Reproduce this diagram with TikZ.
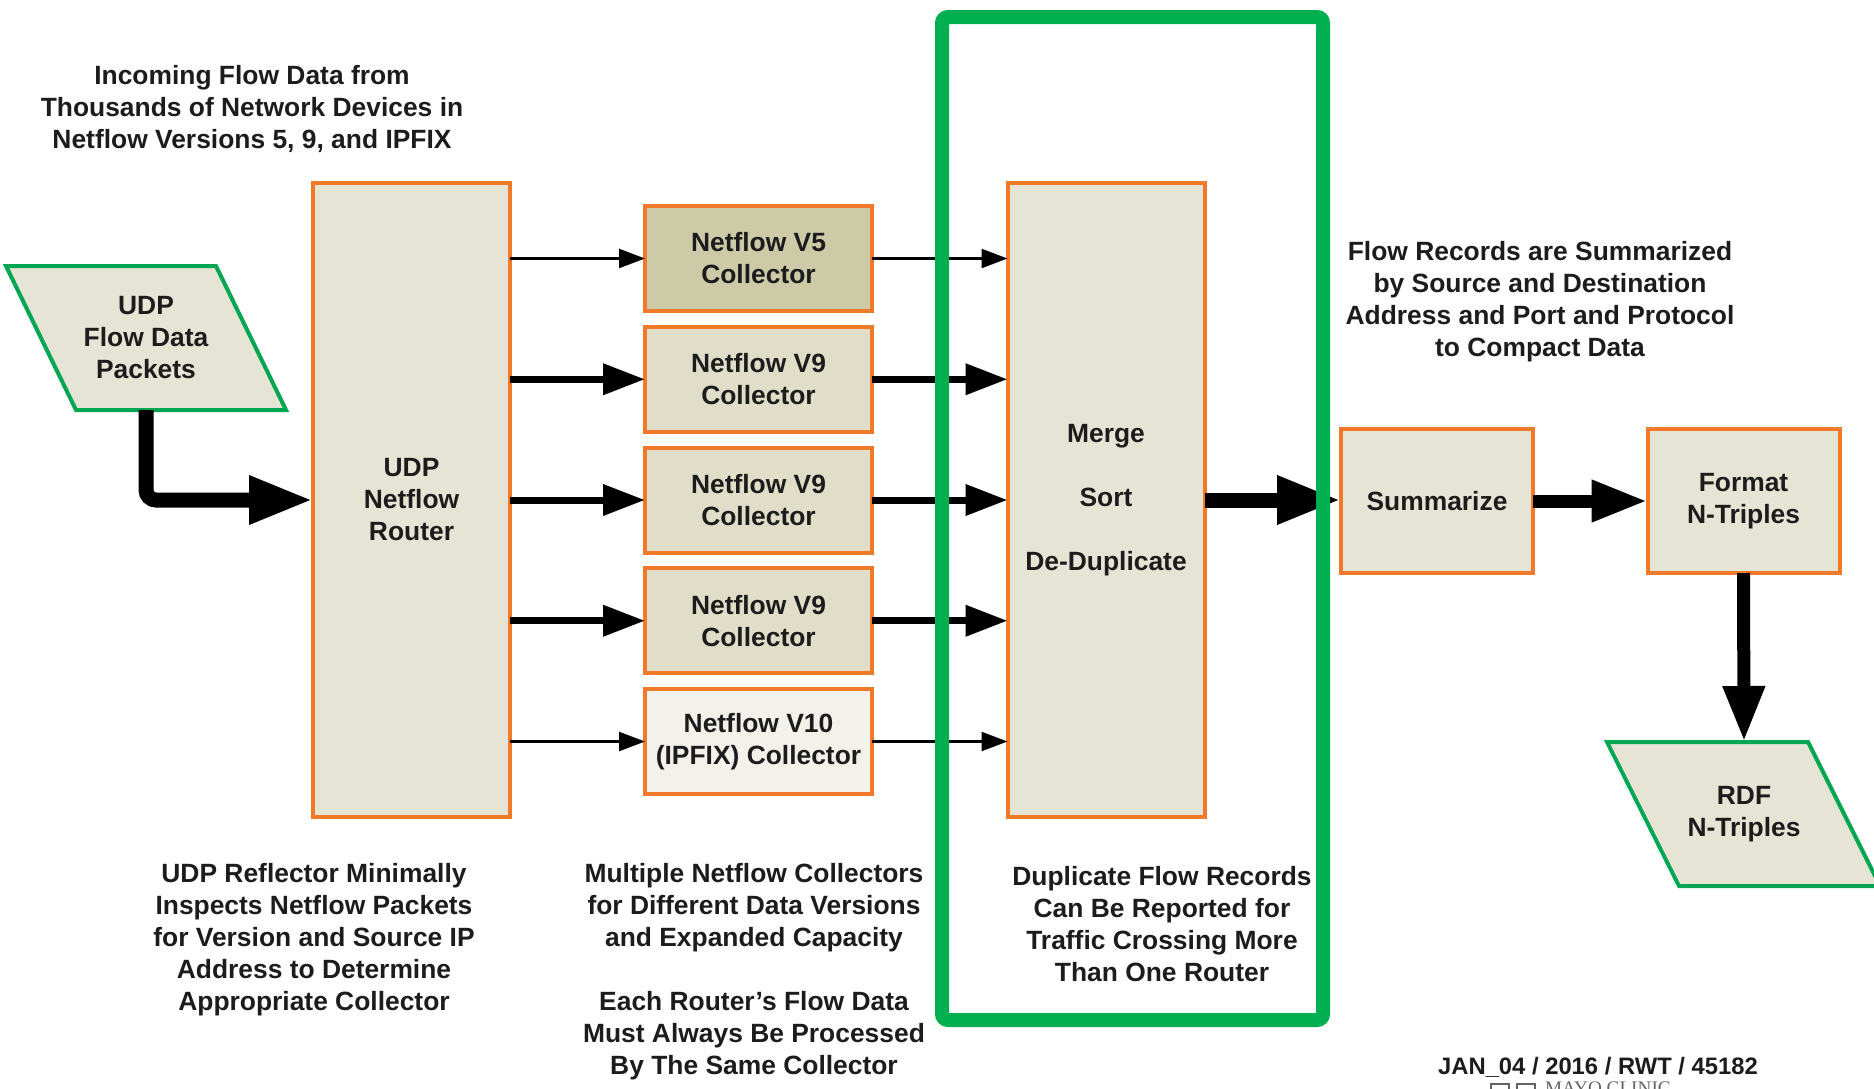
\documentclass[tikz,border=0pt]{standalone}
\usepackage{fontspec}
\setmainfont{Liberation Sans}
\newfontfamily\serifmark{Liberation Serif}
\usetikzlibrary{arrows.meta}

\definecolor{boxorange}{RGB}{241,122,42}
\definecolor{boxfill}{RGB}{230,228,212}
\definecolor{vfivefill}{RGB}{205,202,167}
\definecolor{vninefill}{RGB}{224,222,200}
\definecolor{vtenfill}{RGB}{242,241,234}
\definecolor{framegreen}{RGB}{0,176,80}
\definecolor{paragreen}{RGB}{0,166,81}
\definecolor{inkgray}{RGB}{28,28,28}
\definecolor{markgray}{RGB}{100,100,100}

\begin{document}
\begin{tikzpicture}[x=0.5pt,y=-0.5pt,
  every node/.style={font=\bfseries\fontsize{13.2}{16}\selectfont, text=inkgray,
                     align=center, inner sep=0pt, outer sep=0pt},
  proc/.style={rectangle, draw=boxorange, line width=2pt, fill=boxfill},
  collector/.style={proc, minimum width=113.5pt, minimum height=52.5pt},
  tall/.style={proc, minimum width=98.5pt, minimum height=317pt},
  stage/.style={proc, minimum width=96pt, minimum height=72pt},
  iobox/.style={draw=paragreen, line width=2pt, fill=boxfill, line join=miter},
  iotext/.style={minimum height=72pt, minimum width=60pt},
  note/.style={},
  thinflow/.style={draw=black, line width=1.15pt, -{Triangle[length=13pt,width=9.5pt]}},
  thickflow/.style={draw=black, line width=3.5pt, -{Triangle[length=21pt,width=15pt]}},
  mainflow/.style={draw=black, line width=7.5pt, -{Triangle[length=32pt,width=22.5pt]}},
  outflow/.style={draw=black, line width=6.5pt, -{Triangle[length=28pt,width=19.5pt]}},
]
\useasboundingbox (0,0) rectangle (1874,1088);
\clip (0,0) rectangle (1874,1088);

% input parallelogram
\draw[iobox] (6,266) -- (216,266) -- (286,410) -- (76,410) -- cycle;
\node[iotext] (udp) at (146,338) {UDP\\Flow Data\\Packets};

% router and collectors
\node[tall] (router) at (411.5,500) {UDP\\Netflow\\Router};
\node[collector, fill=vfivefill] (v5)  at (758.5,258.5) {Netflow V5\\Collector};
\node[collector, fill=vninefill] (v9a) at (758.5,379.25) {Netflow V9\\Collector};
\node[collector, fill=vninefill] (v9b) at (758.5,500) {Netflow V9\\Collector};
\node[collector, fill=vninefill] (v9c) at (758.5,620.75) {Netflow V9\\Collector};
\node[collector, fill=vtenfill]  (v10) at (758.5,741.5) {Netflow V10\\(IPFIX) Collector};

% merge stage
\node[tall] (merge) at (1106,500) {Merge\\[16pt]Sort\\[16pt]De-Duplicate};

% output stages
\node[stage] (summ) at (1437,501) {Summarize};
\node[stage] (fmt) at (1743.5,501) {Format\\N-Triples};
\draw[iobox] (1607,742) -- (1808,742) -- (1880,886) -- (1679,886) -- cycle;
\node[iotext] (rdf) at (1744,814) {RDF\\N-Triples};

% connectors
\draw[mainflow, rounded corners=5pt] (udp.south) |- (router.west);
\draw[thinflow]  (router.east |- v5)  -- (v5.west);
\draw[thickflow] (router.east |- v9a) -- (v9a.west);
\draw[thickflow] (router.east |- v9b) -- (v9b.west);
\draw[thickflow] (router.east |- v9c) -- (v9c.west);
\draw[thinflow]  (router.east |- v10) -- (v10.west);
\draw[thinflow]  (v5.east)  -- (merge.west |- v5);
\draw[thickflow] (v9a.east) -- (merge.west |- v9a);
\draw[thickflow] (v9b.east) -- (merge.west |- v9b);
\draw[thickflow] (v9c.east) -- (merge.west |- v9c);
\draw[thinflow]  (v10.east) -- (merge.west |- v10);
\draw[mainflow] (merge.east) -- (merge.east -| summ.west);
\draw[outflow] (summ.east) -- (fmt.west);
\draw[outflow] (fmt.south) -- (rdf.north);

% de-duplication frame
\node[draw=framegreen, line width=7pt, rounded corners=3pt,
      minimum width=190.5pt, minimum height=501.5pt] (frame) at (1132.5,518.5) {};

% annotations
\node[note] (title) at (252,109) {Incoming Flow Data from\\Thousands of Network Devices in\\Netflow Versions 5, 9, and IPFIX};
\node[note] (sumnote) at (1540,302) {Flow Records are Summarized\\by Source and Destination\\Address and Port and Protocol\\to Compact Data};
\node[note] (routernote) at (314,940) {UDP Reflector Minimally\\Inspects Netflow Packets\\for Version and Source IP\\Address to Determine\\Appropriate Collector};
\node[note] (collnote) at (754,971.5) {Multiple Netflow Collectors\\for Different Data Versions\\and Expanded Capacity\\[16pt]Each Router’s Flow Data\\Must Always Be Processed\\By The Same Collector};
\node[note] (dupnote) at (1162,924.5) {Duplicate Flow Records\\Can Be Reported for\\Traffic Crossing More\\Than One Router};
\node[note, font=\bfseries\fontsize{11.9}{14}\selectfont] (stamp) at (1598,1067) {JAN\_04 / 2016 / RWT / 45182};

% footer mark
\draw[markgray, line width=1pt] (1491,1084) rectangle (1509,1100);
\draw[markgray, line width=1pt] (1517,1084) rectangle (1535,1100);
\node[anchor=north west, font=\serifmark\fontsize{9.6}{11}\selectfont, text=markgray] (mark) at (1545,1082) {MAYO CLINIC};
\end{tikzpicture}
\end{document}
